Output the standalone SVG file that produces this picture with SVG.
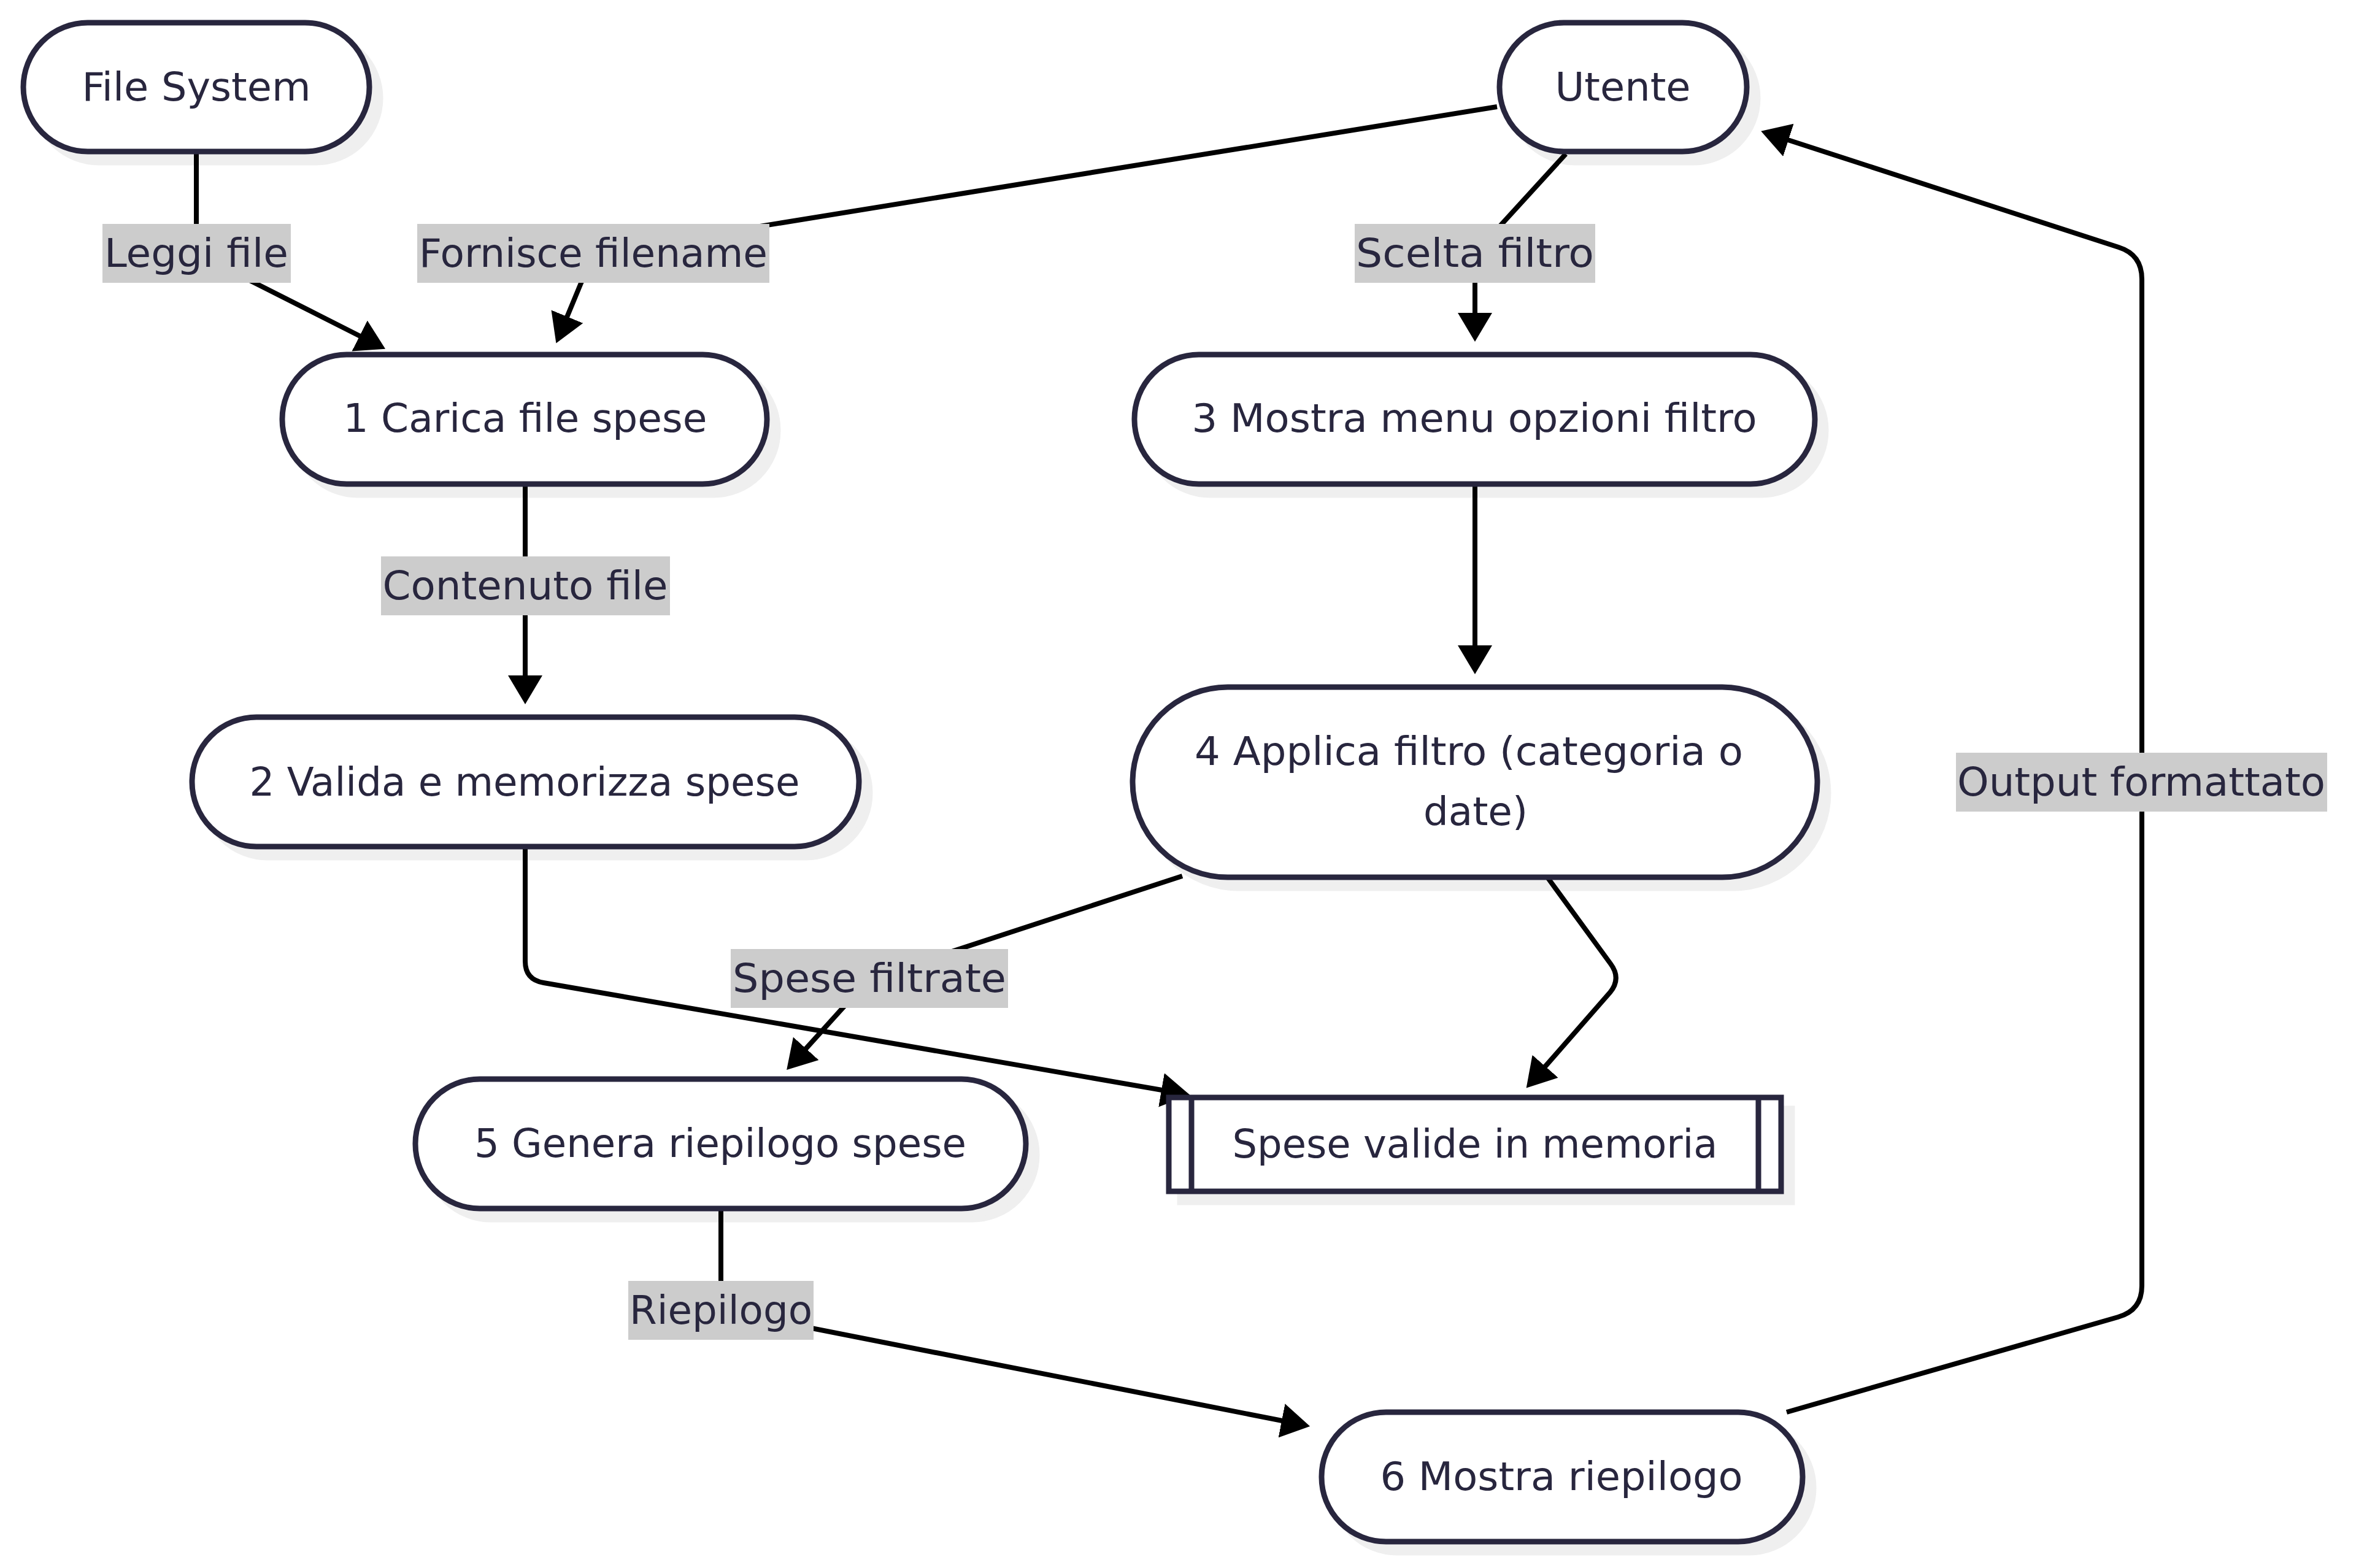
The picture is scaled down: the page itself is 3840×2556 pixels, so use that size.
<svg xmlns="http://www.w3.org/2000/svg" width="3840" height="2556" viewBox="0 0 3840 2556">
<defs>
<marker id="arr" markerUnits="userSpaceOnUse" markerWidth="50" markerHeight="58" viewBox="0 0 50 58" refX="1" refY="29" orient="auto">
<path d="M0,1 L47,29 L0,57 z" fill="#000"/>
</marker>
<style>
.shadow{fill:#efefef;stroke:#efefef;stroke-width:9}
.node{fill:#ffffff;stroke:#28263e;stroke-width:9}
.inner{stroke:#28263e;stroke-width:9;fill:none}
.edge{fill:none;stroke:#000;stroke-width:8;marker-end:url(#arr)}
.lbl{fill:#cccccc}
text{font-family:'Liberation Sans Narrow','DejaVu Sans Condensed','DejaVu Sans','Liberation Sans',sans-serif;font-stretch:condensed;font-size:64px;fill:#28263e;text-anchor:middle}
</style>
</defs>
<rect x="0" y="0" width="3840" height="2556" fill="#ffffff"/>

<g id="shadows">
<rect class="shadow" x="56" y="55" width="564" height="210" rx="105"/>
<rect class="shadow" x="2462" y="55" width="403" height="210" rx="105"/>
<rect class="shadow" x="478" y="596" width="790" height="211" rx="105"/>
<rect class="shadow" x="1867" y="596" width="1109" height="211" rx="105"/>
<rect class="shadow" x="331" y="1187" width="1087" height="211" rx="105"/>
<rect class="shadow" x="1864" y="1138" width="1116" height="310" rx="155"/>
<rect class="shadow" x="1923" y="1807" width="998" height="153"/>
<rect class="shadow" x="695" y="1777" width="995" height="211" rx="105"/>
<rect class="shadow" x="2172" y="2320" width="784" height="211" rx="105"/>
</g>

<g id="connectors">
<path class="edge" d="M320,247 L320,413 L587,548"/>
<path class="edge" d="M2440,174 L967,413 L924,517"/>
<path class="edge" d="M2552,251 L2404,413 L2404,511"/>
<path class="edge" d="M856,789 L856,1102"/>
<path class="edge" d="M2404,789 L2404,1053"/>
<path class="edge" d="M856,1380 L856,1567 Q856,1597 886,1602 L1894,1777"/>
<path class="edge" d="M1927,1428 L1417,1595 L1313,1710"/>
<path class="edge" d="M2522,1430 L2625,1571 Q2643,1595 2624,1618 L2518,1739"/>
<path class="edge" d="M1175,1970 L1175,2136 L2090,2316"/>
<path class="edge" d="M2912,2302 L3452,2147 Q3491,2136 3491,2096 L3491,455 Q3491,415 3453,403 L2914,228"/>
</g>

<g id="edge-labels">
<g id="label-leggi"><rect class="lbl" x="167" y="365" width="307" height="96"/><text x="320" y="435" textLength="300" lengthAdjust="spacingAndGlyphs">Leggi file</text></g>
<g id="label-fornisce"><rect class="lbl" x="680" y="365" width="574" height="96"/><text x="967" y="435" textLength="568" lengthAdjust="spacingAndGlyphs">Fornisce filename</text></g>
<g id="label-scelta"><rect class="lbl" x="2208" y="365" width="392" height="96"/><text x="2404" y="435" textLength="388" lengthAdjust="spacingAndGlyphs">Scelta filtro</text></g>
<g id="label-contenuto"><rect class="lbl" x="621" y="907" width="471" height="96"/><text x="856" y="977" textLength="465" lengthAdjust="spacingAndGlyphs">Contenuto file</text></g>
<g id="label-output"><rect class="lbl" x="3188" y="1227" width="605" height="96"/><text x="3490" y="1297" textLength="600" lengthAdjust="spacingAndGlyphs">Output formattato</text></g>
<g id="label-filtrate"><rect class="lbl" x="1191" y="1547" width="452" height="96"/><text x="1417" y="1617" textLength="446" lengthAdjust="spacingAndGlyphs">Spese filtrate</text></g>
<g id="label-riepilogo"><rect class="lbl" x="1024" y="2088" width="302" height="96"/><text x="1175" y="2158" textLength="298" lengthAdjust="spacingAndGlyphs">Riepilogo</text></g>
</g>

<g id="node-filesystem">
<rect class="node" x="38" y="37" width="564" height="210" rx="105"/>
<text x="320" y="164" textLength="373" lengthAdjust="spacingAndGlyphs">File System</text>
</g>
<g id="node-utente">
<rect class="node" x="2444" y="37" width="403" height="210" rx="105"/>
<text x="2645" y="164" textLength="221" lengthAdjust="spacingAndGlyphs">Utente</text>
</g>
<g id="node-1">
<rect class="node" x="460" y="578" width="790" height="211" rx="105"/>
<text x="856" y="704" textLength="593" lengthAdjust="spacingAndGlyphs">1 Carica file spese</text>
</g>
<g id="node-3">
<rect class="node" x="1849" y="578" width="1109" height="211" rx="105"/>
<text x="2403" y="704" textLength="921" lengthAdjust="spacingAndGlyphs">3 Mostra menu opzioni filtro</text>
</g>
<g id="node-2">
<rect class="node" x="313" y="1169" width="1087" height="211" rx="105"/>
<text x="855" y="1297" textLength="897" lengthAdjust="spacingAndGlyphs">2 Valida e memorizza spese</text>
</g>
<g id="node-4">
<rect class="node" x="1846" y="1120" width="1116" height="310" rx="155"/>
<text x="2394" y="1247" textLength="894" lengthAdjust="spacingAndGlyphs">4 Applica filtro (categoria o</text>
<text x="2405" y="1345" textLength="170" lengthAdjust="spacingAndGlyphs">date)</text>
</g>
<g id="node-spese-valide">
<rect class="node" x="1905" y="1789" width="998" height="153"/>
<line class="inner" x1="1942" y1="1789" x2="1942" y2="1942"/>
<line class="inner" x1="2866" y1="1789" x2="2866" y2="1942"/>
<text x="2404" y="1887" textLength="791" lengthAdjust="spacingAndGlyphs">Spese valide in memoria</text>
</g>
<g id="node-5">
<rect class="node" x="677" y="1759" width="995" height="211" rx="105"/>
<text x="1174" y="1886" textLength="802" lengthAdjust="spacingAndGlyphs">5 Genera riepilogo spese</text>
</g>
<g id="node-6">
<rect class="node" x="2154" y="2302" width="784" height="211" rx="105"/>
<text x="2545" y="2429" textLength="591" lengthAdjust="spacingAndGlyphs">6 Mostra riepilogo</text>
</g>
</svg>
